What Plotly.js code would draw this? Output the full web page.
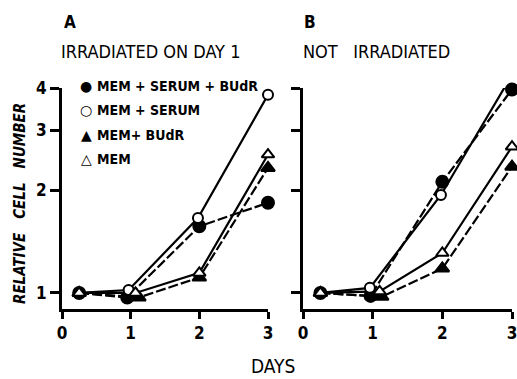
<!DOCTYPE html>
<html>
<head>
<meta charset="utf-8">
<script src="https://cdn.plot.ly/plotly-3.0.1.min.js"></script>
<style>html,body{margin:0;padding:0;background:#fff;}#chart{width:517px;height:379px;}</style>
</head>
<body>
<div id="chart"></div>
<script>
// ---- data ----
var seriesNames = ["MEM + SERUM + BUdR", "MEM + SERUM", "MEM+ BUdR", "MEM"];
var legendSymbols = ["\u25CF", "\u25CB", "\u25B2", "\u25B3"];
var xTickVals = [0, 1, 2, 3];
var yTickVals = [1, 2, 3, 4];
var yTickText = ["1", "2", "3", "4"];

// Panel A: irradiated on day 1
var aFilledCircleX = [0.25, 0.95, 2.0, 3.0];
var aFilledCircleY = [1.0, 0.97, 1.57, 1.84];
var aOpenCircleX = [0.25, 0.97, 1.98, 3.0];
var aOpenCircleY = [1.0, 1.02, 1.66, 3.82];
var aFilledTriX = [0.25, 1.12, 2.0, 3.0];
var aFilledTriY = [1.0, 0.97, 1.11, 2.33];
var aOpenTriX = [0.25, 1.07, 2.0, 3.0];
var aOpenTriY = [1.0, 1.0, 1.145, 2.55];

// Panel B: not irradiated
var bFilledCircleX = [0.25, 0.97, 2.0, 3.0];
var bFilledCircleY = [1.0, 0.98, 2.12, 3.96];
var bOpenCircleX = [0.25, 0.96, 1.98, 3.0];
var bOpenCircleY = [1.0, 1.035, 1.94, 4.37];
var bFilledTriX = [0.25, 1.13, 2.0, 3.0];
var bFilledTriY = [1.0, 0.975, 1.18, 2.35];
var bOpenTriX = [0.25, 1.1, 2.0, 3.0];
var bOpenTriY = [1.0, 1.01, 1.31, 2.69];

// ---- styling ----
var FONT = "DejaVu Sans Condensed, Liberation Sans Narrow, Arial Narrow, sans-serif";
var styles = [
  {symbol: "circle", fill: "black", size: 12, dash: "10px,3px"},
  {symbol: "circle", fill: "white", size: 10, dash: "solid"},
  {symbol: "triangle-up", fill: "black", size: 12, dash: "10px,3px"},
  {symbol: "triangle-up", fill: "white", size: 11, dash: "solid"}
];

function makeTraces(xs, ys, xa, ya) {
  var lines = [], marks = [];
  for (var i = 0; i < xs.length; i++) {
    lines.push({
      type: "scatter", mode: "lines", x: xs[i], y: ys[i], xaxis: xa, yaxis: ya,
      line: {color: "black", width: 2.2, dash: styles[i].dash},
      showlegend: false, cliponaxis: false, hoverinfo: "skip", name: seriesNames[i]
    });
    marks.push({
      type: "scatter", mode: "markers", x: xs[i], y: ys[i], xaxis: xa, yaxis: ya,
      marker: {symbol: styles[i].symbol, color: styles[i].fill, size: styles[i].size,
               line: {color: "black", width: 2}},
      showlegend: false, cliponaxis: false, name: seriesNames[i]
    });
  }
  return lines.concat(marks);
}

var traces = []
  .concat(makeTraces([aFilledCircleX, aOpenCircleX, aFilledTriX, aOpenTriX],
                     [aFilledCircleY, aOpenCircleY, aFilledTriY, aOpenTriY], "x", "y"))
  .concat(makeTraces([bFilledCircleX, bOpenCircleX, bFilledTriX, bOpenTriX],
                     [bFilledCircleY, bOpenCircleY, bFilledTriY, bOpenTriY], "x2", "y2"));

var W = 517, H = 379;
function px(x) { return x / W; }
function py(y) { return 1 - y / H; }

var yRange = [Math.log10(0.897), Math.log10(4)];
function xAxis(domain) {
  return {
    domain: domain, range: [0, 3], tickvals: xTickVals, ticktext: xTickVals.map(String),
    showline: true, linewidth: 3, linecolor: "black", ticks: "outside", ticklen: 7,
    tickwidth: 3, tickcolor: "black", showgrid: false, zeroline: false,
    ticklabeloverflow: "allow",
    tickfont: {family: FONT, size: 17, color: "black", weight: "bold"}, fixedrange: true
  };
}
function yAxis(anchor, showLabels) {
  return {
    anchor: anchor, type: "log", domain: [py(309), py(88)], range: yRange,
    tickvals: yTickVals, ticktext: yTickText, showticklabels: showLabels,
    showline: true, linewidth: 3, linecolor: "black", ticks: "outside", ticklen: 9,
    tickwidth: 3, tickcolor: "black", showgrid: false, zeroline: false,
    tickfont: {family: FONT, size: 17, color: "black", weight: "bold"}, fixedrange: true
  };
}

var annotations = [
  {text: "A", x: px(62), y: py(22), xanchor: "left", yanchor: "middle",
   font: {family: FONT, size: 17, weight: "bold", color: "black"}},
  {text: "IRRADIATED ON DAY 1", x: px(59), y: py(52), xanchor: "left", yanchor: "middle",
   font: {family: FONT, size: 18, color: "black"}},
  {text: "B", x: px(302), y: py(22), xanchor: "left", yanchor: "middle",
   font: {family: FONT, size: 17, weight: "bold", color: "black"}},
  {text: "NOT\u00a0\u00a0 IRRADIATED", x: px(301), y: py(52), xanchor: "left", yanchor: "middle",
   font: {family: FONT, size: 18, color: "black"}},
  {text: "DAYS", x: px(273), y: py(366), xanchor: "center", yanchor: "middle",
   font: {family: FONT, size: 19, color: "black"}},
  {text: "RELATIVE\u00a0\u00a0 CELL\u00a0\u00a0 NUMBER", x: px(20), y: py(204), textangle: -90,
   xanchor: "center", yanchor: "middle",
   font: {family: FONT, size: 15, color: "black", style: "italic", weight: "bold"}}
];
var legendRowsY = [86, 110, 135, 159];
for (var i = 0; i < seriesNames.length; i++) {
  annotations.push({text: legendSymbols[i], x: px(86), y: py(legendRowsY[i]),
    xanchor: "center", yanchor: "middle",
    font: {family: "DejaVu Sans", size: 14, color: "black"}});
  annotations.push({text: seriesNames[i], x: px(95), y: py(legendRowsY[i]),
    xanchor: "left", yanchor: "middle",
    font: {family: FONT, size: 14, color: "black", weight: "bold"}});
}
annotations.forEach(function (a) { a.xref = "paper"; a.yref = "paper"; a.showarrow = false; });

var layout = {
  width: W, height: H, margin: {l: 0, r: 0, t: 0, b: 0},
  paper_bgcolor: "white", plot_bgcolor: "white", showlegend: false,
  xaxis: xAxis([px(62), px(268)]), yaxis: yAxis("x", true),
  xaxis2: xAxis([px(303), px(512)]), yaxis2: yAxis("x2", false),
  annotations: annotations
};
layout.xaxis.anchor = "y";
layout.xaxis2.anchor = "y2";

Plotly.newPlot("chart", traces, layout, {displayModeBar: false, staticPlot: true});
</script>
</body>
</html>
